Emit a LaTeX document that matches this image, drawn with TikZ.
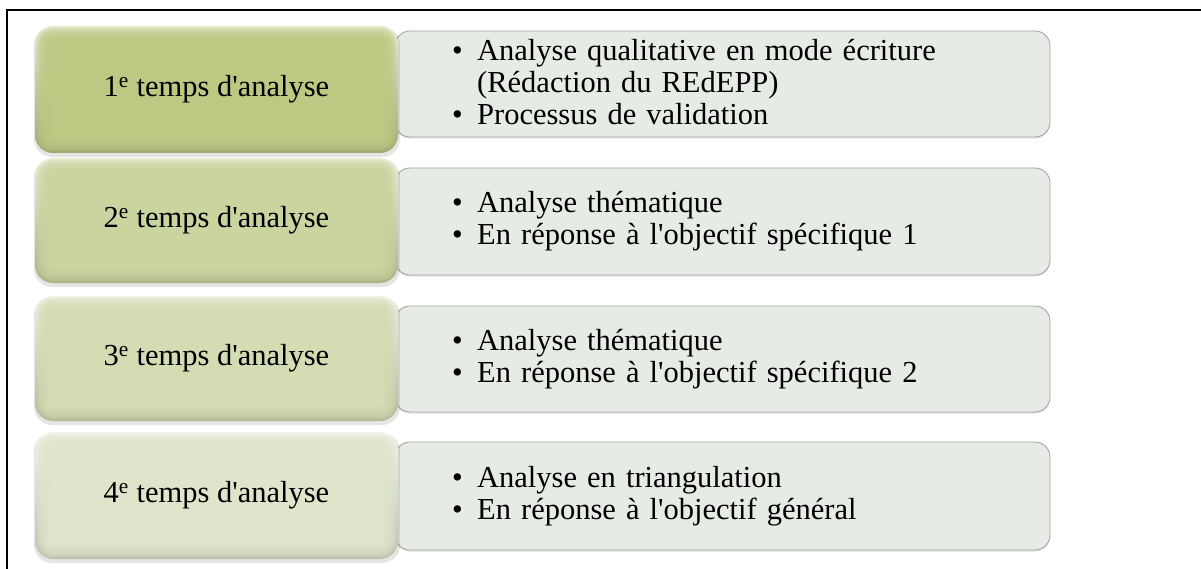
\documentclass[tikz,border=0pt]{standalone}
\usepackage{fontspec}
\setmainfont{Liberation Serif}
\usetikzlibrary{shadows}

\definecolor{phaseA}{HTML}{BDC983}
\definecolor{phaseB}{HTML}{C9D49E}
\definecolor{phaseC}{HTML}{D4DCB3}
\definecolor{phaseD}{HTML}{DEE5CB}
\definecolor{panel}{HTML}{E7EBE5}
\definecolor{panelline}{HTML}{A6A6A4}

\newcommand\bul{\makebox[25pt][l]{\textbullet}}
\newcommand\ap{\textquotesingle}
\newcommand\bodyfont{\fontsize{30.5}{32}\selectfont}
\newcommand\itemfont{\fontsize{30.5}{32}\selectfont\spaceskip=0.33em\relax}

% Bevelled phase tile: #1 top, #2 bottom, #3 colour
\newcommand\phasetile[3]{%
  \fill[black, opacity=0.10, rounded corners=18pt] (34,#1+1) rectangle (400,#2+4);
  \shade[rounded corners=18pt, top color=#3!40!white, bottom color=#3!85!black]
    (35,#1) rectangle (398,#2);
  \foreach \i in {2,4,...,12}{%
    \pgfmathsetmacro\rc{18-\i}%
    \fill[#3, opacity=0.32, rounded corners=\rc pt]
      (35+\i,#1+\i) rectangle (398-\i,#2-\i);
  }%
  \fill[#3, rounded corners=4pt] (35+14,#1+14) rectangle (398-14,#2-14);
}

\tikzset{
  panelbox/.style={fill=panel, draw=panelline, line width=0.9pt, rounded corners=15pt,
    drop shadow={shadow xshift=0pt, shadow yshift=-1.5pt, opacity=0.25}},
  phaselabel/.style={font=\bodyfont, text=black, inner sep=0pt},
  itemtext/.style={font=\itemfont, text=black, align=left, anchor=west, inner sep=0pt},
  frameline/.style={line width=2pt, black}
}

\begin{document}
\begin{tikzpicture}[x=1pt, y=-1pt]
  \useasboundingbox (0,0) rectangle (1201,569);
  \fill[white] (0,0) rectangle (1201,569);

  % outer frame (left and top edges)
  \draw[frameline] (7,569) -- (7,10) -- (1201,10);

  % detail panels, drawn behind the tiles
  \draw[panelbox] (395,31)  rectangle (1050,137);
  \draw[panelbox] (395,168) rectangle (1050,275);
  \draw[panelbox] (395,306) rectangle (1050,412);
  \draw[panelbox] (395,442) rectangle (1050,550);

  % phase tiles
  \phasetile{26}{153}{phaseA}
  \phasetile{158}{283}{phaseB}
  \phasetile{296}{421}{phaseC}
  \phasetile{432}{559}{phaseD}

  % tile labels
  \node[phaselabel] (p1) at (216.5,89.5) {1\textsuperscript{e} temps d\ap analyse};
  \node[phaselabel] (p2) at (216.5,220.5) {2\textsuperscript{e} temps d\ap analyse};
  \node[phaselabel] (p3) at (216.5,358.5) {3\textsuperscript{e} temps d\ap analyse};
  \node[phaselabel] (p4) at (216.5,495.5) {4\textsuperscript{e} temps d\ap analyse};

  % panel contents
  \node[itemtext] (d1) at (452,82.5)
    {\bul Analyse qualitative en mode écriture\\
     \hspace*{25pt}(Rédaction du REdEPP)\\
     \bul Processus de validation};
  \node[itemtext] (d2) at (452,221.5)
    {\bul Analyse thématique\\
     \bul En réponse à l\ap objectif spécifique 1};
  \node[itemtext] (d3) at (452,359)
    {\bul Analyse thématique\\
     \bul En réponse à l\ap objectif spécifique 2};
  \node[itemtext] (d4) at (452,496)
    {\bul Analyse en triangulation\\
     \bul En réponse à l\ap objectif général};
\end{tikzpicture}
\end{document}
